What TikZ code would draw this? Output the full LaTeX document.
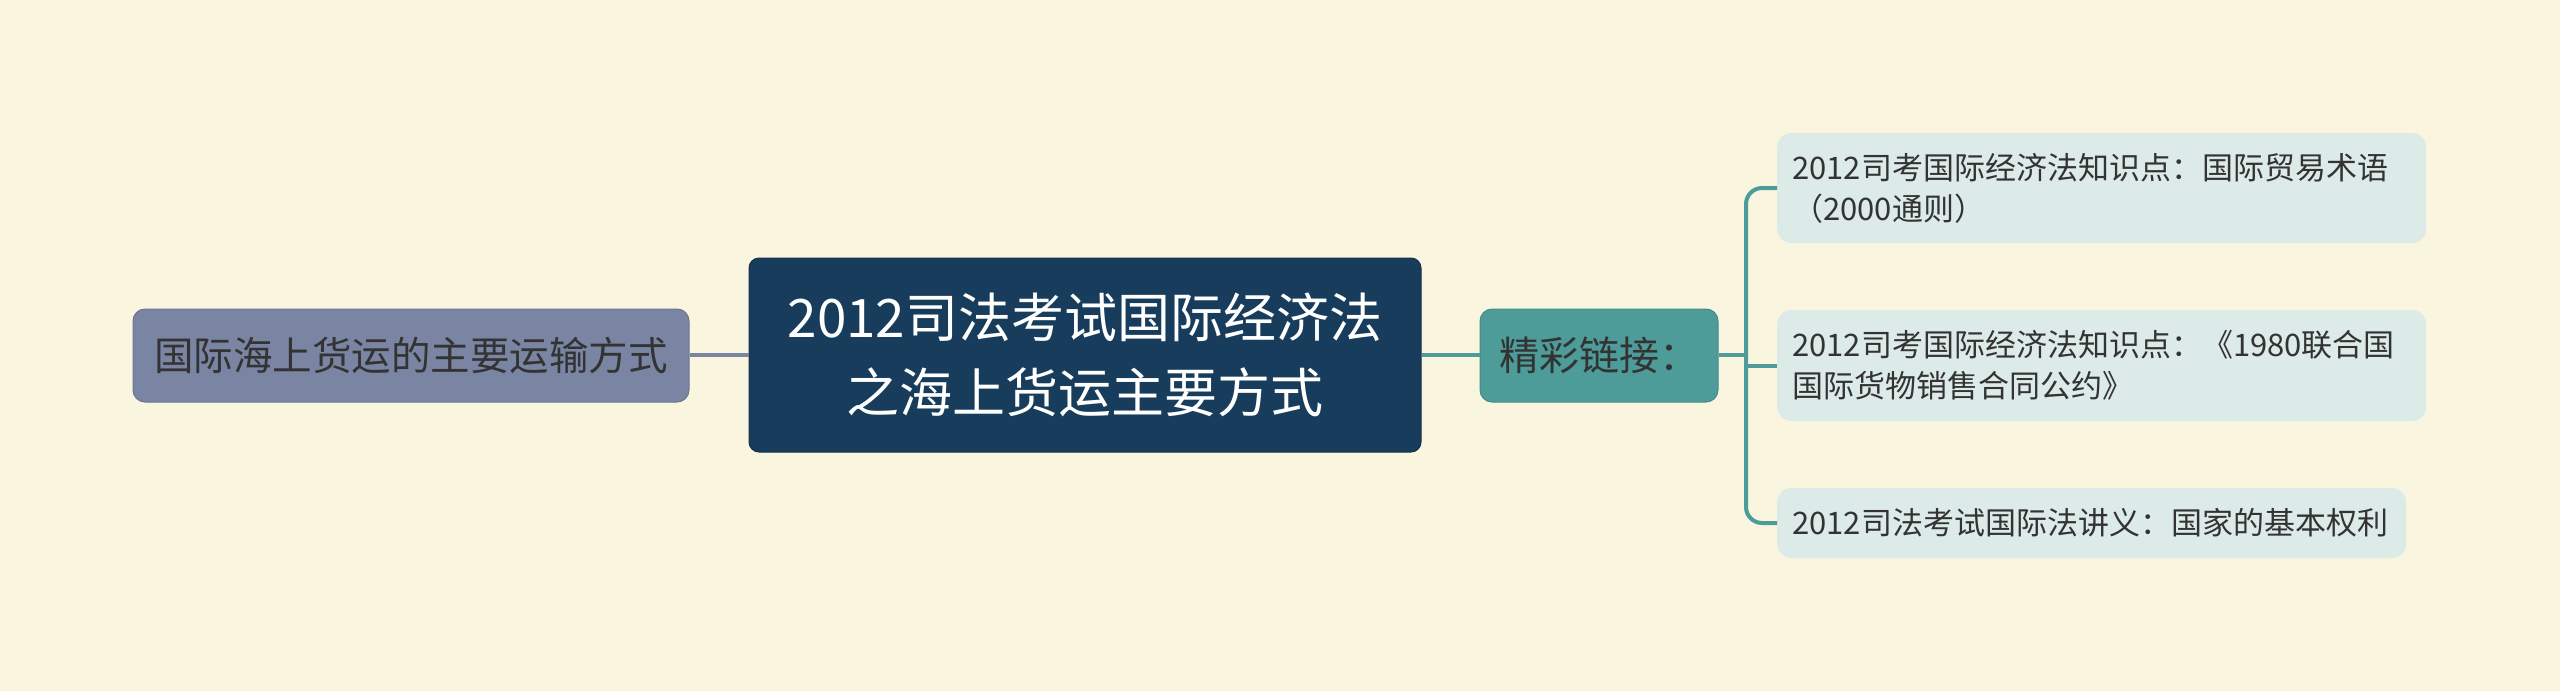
\documentclass[tikz,border=0pt]{standalone}
\usepackage{fontspec}
\setmainfont{Noto Sans CJK SC}
\definecolor{bgc}{RGB}{250,245,223}
\definecolor{rootc}{RGB}{24,61,92}
\definecolor{leftc}{RGB}{122,132,163}
\definecolor{leftbd}{RGB}{108,117,148}
\definecolor{tealc}{RGB}{78,156,154}
\definecolor{tealbd}{RGB}{66,140,138}
\definecolor{leafc}{RGB}{220,234,232}
\definecolor{txtc}{RGB}{51,51,51}
\begin{document}
\begin{tikzpicture}[x=1pt,y=-1pt,
  rootbox/.style={fill=rootc,draw=rootc!80!black,line width=1pt,rounded corners=10pt,
    minimum width=672pt,minimum height=194pt,text=white,align=center,inner sep=0pt,
    font=\fontsize{53}{75}\selectfont},
  leftbox/.style={fill=leftc,draw=leftbd,line width=1pt,rounded corners=12pt,
    minimum width=556pt,minimum height=93pt,text=txtc,inner sep=0pt,
    font=\fontsize{39.5}{48}\selectfont},
  linkbox/.style={fill=tealc,draw=tealbd,line width=1pt,rounded corners=12pt,
    minimum width=238pt,minimum height=93pt,text=txtc,inner sep=0pt,
    font=\fontsize{40}{48}\selectfont},
  leafbox/.style={fill=leafc,rounded corners=14pt,text=txtc,align=left,
    inner xsep=15pt,inner ysep=0pt,anchor=west,
    font=\fontsize{31}{41}\selectfont},
  conn/.style={line width=4pt}]
\fill[bgc] (0,0) rectangle (2560,691);
\useasboundingbox (0,0) rectangle (2560,691);

\node[rootbox] (root) at (1085,355) {2012司法考试国际经济法\\之海上货运主要方式};
\node[leftbox] (left) at (411,355.5) {国际海上货运的主要运输方式};
\node[linkbox] (link) at (1599,355.5) {精彩链接：};

\node[leafbox,minimum width=649pt,minimum height=110pt,text width=619pt] (r1) at (1777,188)
  {2012司考国际经济法知识点：国际贸易术语\\（2000通则）};
\node[leafbox,minimum width=649pt,minimum height=111pt,text width=619pt] (r2) at (1777,365.5)
  {2012司考国际经济法知识点：《1980联合国\\国际货物销售合同公约》};
\node[leafbox,minimum width=629pt,minimum height=70pt,text width=599pt] (r3) at (1777,523)
  {2012司法考试国际法讲义：国家的基本权利};

\coordinate (j) at (1746,355);

\draw[conn,leftc] (root.west) -- (left.east |- root.west);
\draw[conn,tealc] (root.east) -- (link.west |- root.east);
\draw[conn,tealc] (link.east |- j) -- (j);
\draw[conn,tealc,rounded corners=16pt] (r1.west) -| (j) |- (r3.west);
\draw[conn,tealc] (r2.west -| j) -- (r2.west);
\end{tikzpicture}
\end{document}
